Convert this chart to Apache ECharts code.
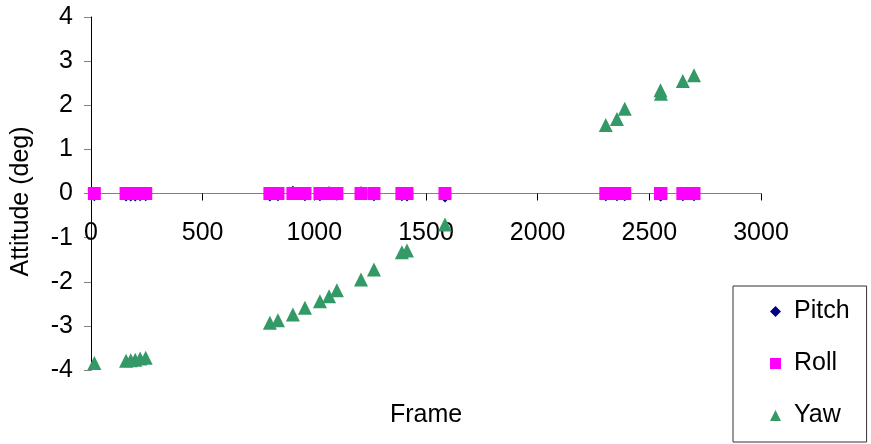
<!DOCTYPE html>
<html>
<head>
<meta charset="utf-8">
<script src="https://cdn.jsdelivr.net/npm/echarts@6/dist/echarts.min.js"></script>
<style>
html,body{margin:0;padding:0;background:#fff;}
#chart{width:871px;height:444px;}
</style>
</head>
<body>
<div id="chart"></div>
<script>
// Frame numbers of the samples
var frames = [15, 157, 178, 198, 220, 245, 801, 837, 904, 958, 1025, 1066, 1101, 1209, 1267, 1392, 1415, 1585, 2305, 2355, 2390, 2550, 2552, 2650, 2700];
// Attitude values (deg)
var pitch = [-0.06, -0.07, -0.07, -0.07, -0.06, -0.06, -0.07, -0.06, 0.06, -0.06, -0.06, 0.05, -0.05, 0.05, -0.06, -0.06, -0.07, -0.09, -0.06, -0.06, -0.06, -0.07, -0.06, -0.06, -0.06];
var roll = [0, 0, 0, 0, 0, 0, 0, 0, 0, 0, 0, 0, 0, 0, 0, 0, 0, 0, 0, 0, 0, 0, 0, 0, 0];
var yaw = [-3.84, -3.79, -3.78, -3.77, -3.74, -3.72, -2.93, -2.87, -2.74, -2.59, -2.44, -2.33, -2.19, -1.95, -1.72, -1.33, -1.29, -0.70, 1.55, 1.69, 1.92, 2.34, 2.26, 2.55, 2.68];
var seriesNames = ['Pitch', 'Roll', 'Yaw'];
var xTicks = {min: 0, max: 3000, interval: 500};
var yTicks = {min: -4, max: 4, interval: 1};

function pairs(xs, ys) {
  return xs.map(function (x, i) { return [x, ys[i]]; });
}
function plain(v) { return String(v); }

var font = 'Liberation Sans, Arial, sans-serif';
var fs = 25;
var chart = echarts.init(document.getElementById('chart'), null, {renderer: 'canvas'});
chart.setOption({
  backgroundColor: '#ffffff',
  animation: false,
  textStyle: {fontFamily: font},
  grid: {left: 91, top: 17, width: 670, height: 353, containLabel: false, outerBoundsMode: 'none'},
  legend: {
    orient: 'vertical',
    left: 733,
    top: 286,
    padding: [13, 17, 14, 37],
    itemGap: 27,
    itemWidth: 11,
    itemHeight: 11,
    borderColor: '#333333',
    borderWidth: 1,
    textStyle: {fontSize: fs, color: '#000', fontFamily: font, padding: [0, 0, 0, 8]},
    data: seriesNames
  },
  xAxis: {
    type: 'value',
    min: xTicks.min, max: xTicks.max, interval: xTicks.interval,
    name: 'Frame',
    nameLocation: 'middle',
    nameGap: 33,
    nameTextStyle: {fontSize: fs, color: '#000', fontFamily: font},
    axisLine: {onZero: true, lineStyle: {color: '#808080', width: 1}},
    axisTick: {show: true, inside: false, length: 7, lineStyle: {color: '#000'}},
    axisLabel: {fontSize: fs, color: '#000', margin: -149, fontFamily: font, formatter: plain},
    splitLine: {show: false}
  },
  yAxis: {
    type: 'value',
    min: yTicks.min, max: yTicks.max, interval: yTicks.interval,
    name: 'Attitude (deg)',
    nameLocation: 'middle',
    nameGap: 57,
    nameTextStyle: {fontSize: fs, color: '#000', fontFamily: font, padding: [0, 16, 0, 0]},
    axisLine: {show: true, onZero: false, lineStyle: {color: '#000', width: 1}},
    axisTick: {show: true, inside: false, length: 7, lineStyle: {color: '#808080'}},
    axisLabel: {fontSize: fs, color: '#000', margin: 18, fontFamily: font, formatter: plain},
    splitLine: {show: false}
  },
  series: [
    {name: seriesNames[0], type: 'scatter', symbol: 'diamond', symbolSize: 10, zlevel: 1,
     itemStyle: {color: '#000080', opacity: 1}, data: pairs(frames, pitch)},
    {name: seriesNames[1], type: 'scatter', symbol: 'rect', symbolSize: 13, zlevel: 2,
     itemStyle: {color: '#FF00FF', opacity: 1}, data: pairs(frames, roll)},
    {name: seriesNames[2], type: 'scatter', symbol: 'triangle', symbolSize: 14, zlevel: 3,
     itemStyle: {color: '#339966', opacity: 1}, data: pairs(frames, yaw)}
  ]
});
</script>
</body>
</html>
